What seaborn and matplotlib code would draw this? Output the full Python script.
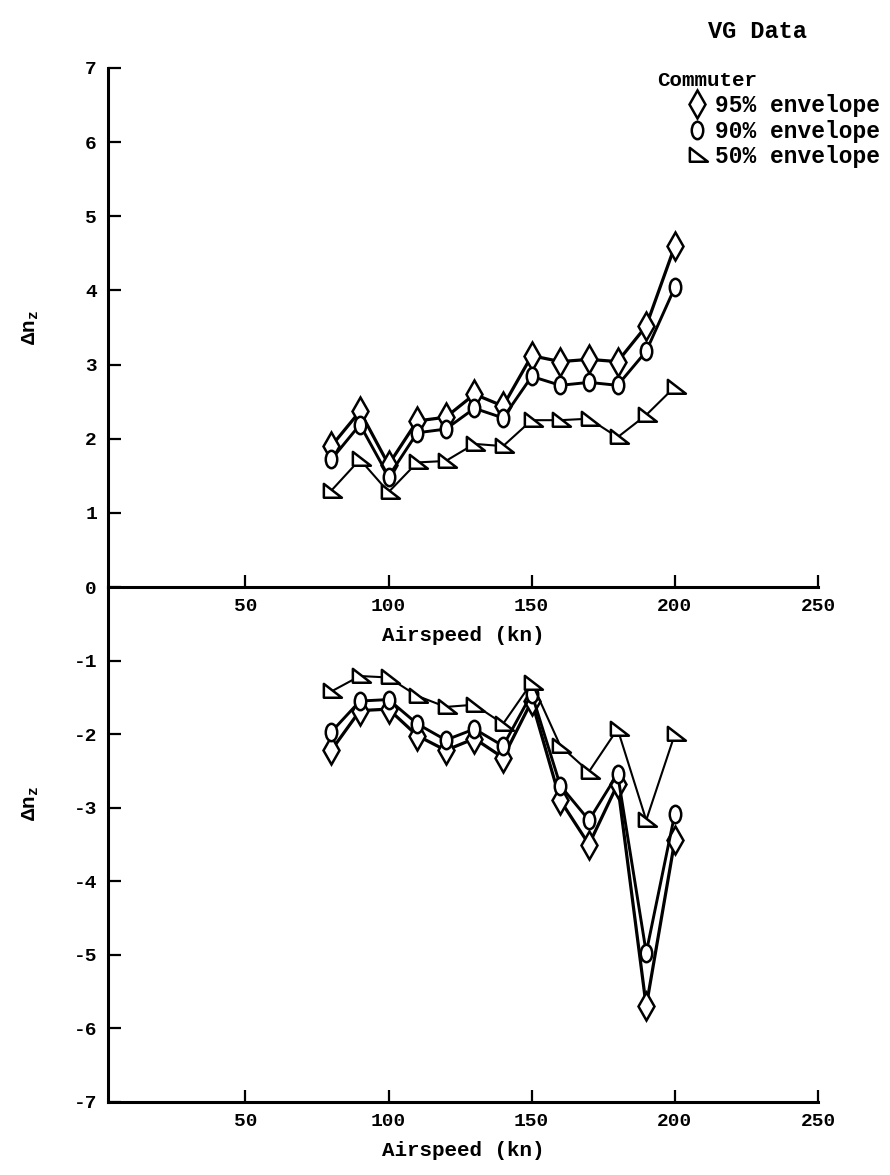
import numpy as np
import pandas as pd
import matplotlib
matplotlib.use("Agg")
import matplotlib.pyplot as plt
from matplotlib.path import Path
from matplotlib.lines import Line2D
import matplotlib.transforms as mtransforms
import seaborn as sns

# ---------------- data ----------------
airspeed = [80, 90, 100, 110, 120, 130, 140, 150, 160, 170, 180, 190, 200]

pos_95 = [1.90, 2.37, 1.65, 2.24, 2.29, 2.60, 2.44, 3.12, 3.04, 3.07, 3.04, 3.52, 4.60]
pos_90 = [1.72, 2.19, 1.49, 2.08, 2.13, 2.41, 2.28, 2.84, 2.72, 2.76, 2.72, 3.18, 4.04]
pos_50 = [1.30, 1.72, 1.28, 1.68, 1.70, 1.93, 1.90, 2.25, 2.25, 2.27, 2.02, 2.32, 2.70]

neg_95 = [-2.22, -1.68, -1.66, -2.02, -2.22, -2.06, -2.32, -1.55, -2.90, -3.50, -2.68, -5.70, -3.44]
neg_90 = [-1.97, -1.55, -1.53, -1.86, -2.08, -1.93, -2.16, -1.45, -2.70, -3.17, -2.54, -4.97, -3.08]
neg_50 = [-1.42, -1.21, -1.23, -1.48, -1.63, -1.60, -1.86, -1.30, -2.16, -2.51, -1.93, -3.17, -2.00]

envelopes = ["95% envelope", "90% envelope", "50% envelope"]
legend_labels = ["95% envelope", "90% envelope", "50% envelope"]
legend_title = "Commuter"
title = "VG Data"
xlabel = "Airspeed (kn)"
ylabel = r"$\Delta$n$_z$"
xticks = [50, 100, 150, 200, 250]
yticks_top = [0, 1, 2, 3, 4, 5, 6, 7]
yticks_bot = [-1, -2, -3, -4, -5, -6, -7]

# ---------------- styling ----------------
sns.set_theme(style="white")
plt.rcParams['font.family'] = ['Liberation Mono', 'DejaVu Sans Mono', 'DejaVu Sans']
plt.rcParams['font.weight'] = 'bold'
plt.rcParams['text.color'] = 'black'
plt.rcParams['axes.labelcolor'] = 'black'
plt.rcParams['xtick.color'] = 'black'
plt.rcParams['ytick.color'] = 'black'
plt.rcParams['axes.unicode_minus'] = False
plt.rcParams['mathtext.fontset'] = 'custom'
plt.rcParams['mathtext.rm'] = 'Liberation Mono:bold'
plt.rcParams['mathtext.it'] = 'Liberation Mono:bold'

# custom markers
oval = Path.unit_circle().transformed(mtransforms.Affine2D().scale(0.66, 1.0))
tri = Path([(-0.55, -0.45), (-0.55, 0.55), (0.75, -0.45), (-0.55, -0.45)],
           [Path.MOVETO, Path.LINETO, Path.LINETO, Path.CLOSEPOLY])
markers = {"95% envelope": "d", "90% envelope": oval, "50% envelope": tri}
msizes = {"95% envelope": 14, "90% envelope": 12.5, "50% envelope": 15}
lwidths = {"95% envelope": 2.3, "90% envelope": 2.1, "50% envelope": 1.5}

df_pos = pd.DataFrame({
    "airspeed": airspeed * 3,
    "dnz": pos_95 + pos_90 + pos_50,
    "envelope": sum([[e] * len(airspeed) for e in envelopes], []),
})
df_neg = pd.DataFrame({
    "airspeed": airspeed * 3,
    "dnz": neg_95 + neg_90 + neg_50,
    "envelope": sum([[e] * len(airspeed) for e in envelopes], []),
})

fig = plt.figure(figsize=(8.9, 11.75), dpi=100)
L, R = 108 / 890, 818 / 890
y0 = 1 - 587 / 1175
ytop = 1 - 68 / 1175
ybot = 1 - 1102 / 1175
ax1 = fig.add_axes([L, y0, R - L, ytop - y0])
ax2 = fig.add_axes([L, ybot, R - L, y0 - ybot])

for ax, df in [(ax1, df_pos), (ax2, df_neg)]:
    for env in envelopes:
        sub = df[df["envelope"] == env]
        sns.lineplot(data=sub, x="airspeed", y="dnz", ax=ax, color="black",
                     marker=markers[env], markersize=msizes[env],
                     markerfacecolor="white", markeredgecolor="black",
                     markeredgewidth=1.8, linewidth=lwidths[env], legend=False,
                     zorder=3, clip_on=False)
    ax.set_xlim(2, 250)
    ax.set_xticks(xticks)
    ax.set_xticklabels([str(t) for t in xticks], fontsize=14, fontweight='bold')
    for s in ["top", "right"]:
        ax.spines[s].set_visible(False)
    for s in ["left", "bottom"]:
        ax.spines[s].set_color("black")
        ax.spines[s].set_linewidth(2.2)
    ax.tick_params(axis="both", which="major", direction="in", length=9, width=1.6,
                   colors="black", labelsize=14, pad=8,
                   bottom=True, left=True, top=False, right=False)
    ax.patch.set_visible(False)
    ax.set_xlabel(xlabel, fontsize=15, fontweight='bold', labelpad=8, color='black')
    ax.set_ylabel(ylabel, fontsize=15, fontweight='bold', color='black')
    ax.yaxis.set_label_coords(-0.095, 0.5)

ax1.set_ylim(0, 7)
ax1.set_yticks(yticks_top)
ax1.set_yticklabels([str(t) for t in yticks_top], fontweight='bold')
ax2.set_ylim(-7, 0)
ax2.set_yticks(yticks_bot)
ax2.set_yticklabels([str(t) for t in yticks_bot], fontweight='bold')
ax2.yaxis.set_label_coords(-0.095, 0.58)

fig.text(757 / 890, 1 - 32 / 1175, title, ha="center", va="center",
         fontsize=17, fontweight="bold", color="black")
fig.text(657 / 890, 1 - 80 / 1175, legend_title, ha="left", va="center",
         fontsize=15, fontweight="bold", color="black")

handles = [Line2D([], [], linestyle="none", marker=markers[e], markersize=msizes[e],
                  markerfacecolor="white", markeredgecolor="black", markeredgewidth=1.8)
           for e in envelopes]
leg = fig.legend(handles, legend_labels, loc="upper left",
                 bbox_to_anchor=(686 / 890, 1 - 94 / 1175), frameon=False,
                 fontsize=16.5, handlelength=1.0, handletextpad=0.25,
                 labelspacing=0.12, borderpad=0, borderaxespad=0)
for t in leg.get_texts():
    t.set_fontweight("bold")
    t.set_color("black")

fig.savefig("out.png", dpi=100, facecolor="white")
